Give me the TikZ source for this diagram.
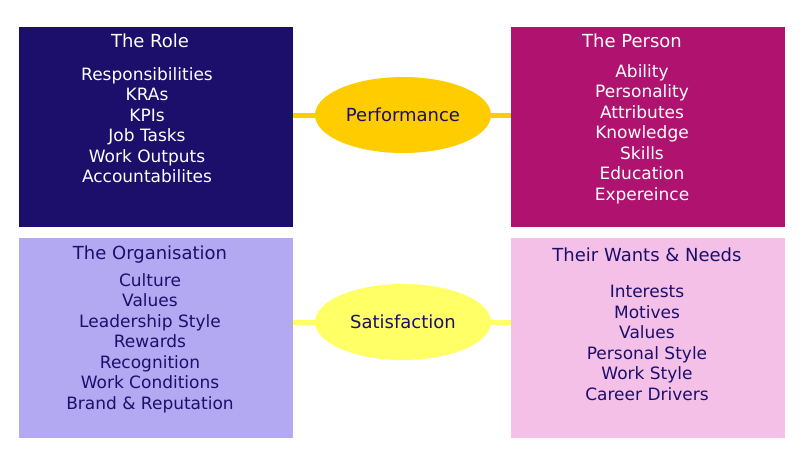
\documentclass[tikz,border=0pt]{standalone}
\usepackage{fontspec}
\setmainfont{DejaVu Sans}
\usetikzlibrary{positioning,shapes.geometric}
\definecolor{roleblue}{HTML}{1B0F6B}
\definecolor{personred}{HTML}{B0126F}
\definecolor{orglilac}{HTML}{B3A9F2}
\definecolor{wantpink}{HTML}{F5C0E8}
\definecolor{perfgold}{HTML}{FFCC00}
\definecolor{satyellow}{HTML}{FFFF66}
\begin{document}
\begin{tikzpicture}[x=1pt,y=-1pt]
	\tikzstyle{q-box}=[rectangle,inner sep=0pt,minimum width=274pt,minimum height=200pt,anchor=north west]
	\tikzstyle{q-text}=[align=center,font=\fontsize{17}{20.5}\selectfont,anchor=north]
	\tikzstyle{q-title}=[font=\fontsize{18}{20}\selectfont,anchor=north]
	\tikzstyle{link}=[line width=5pt]
	\useasboundingbox (0,0) rectangle (800,448);
	% boxes
	\node[q-box,fill=roleblue] 	(role)	at (19,27)	{};
	\node[q-box,fill=personred] 	(person)	at (511,27)	{};
	\node[q-box,fill=orglilac] 	(org)	at (19,238)	{};
	\node[q-box,fill=wantpink] 	(wants)	at (511,238)	{};
	% ellipses
	\node[ellipse,fill=perfgold,minimum width=176pt,minimum height=76pt,font=\fontsize{18}{20}\selectfont,text=roleblue] (perf) at (403,115) {Performance};
	\node[ellipse,fill=satyellow,minimum width=176pt,minimum height=76pt,font=\fontsize{18}{20}\selectfont,text=roleblue] (sat) at (403,322) {Satisfaction};
	% links
	\draw[link,perfgold] (role.east |- perf) -- (perf.west);
	\draw[link,perfgold] (perf.east) -- (person.west |- perf);
	\draw[link,satyellow] (org.east |- sat) -- (sat.west);
	\draw[link,satyellow] (sat.east) -- (wants.west |- sat);
	% texts
	\node[q-title,text=white] (role-t) at (150,30) {The Role};
	\node[q-text,text=white] (role-l) at (147,64) {Responsibilities\\KRAs\\KPIs\\Job Tasks\\Work Outputs\\Accountabilites};
	\node[q-title,text=white] (person-t) at (632,30) {The Person};
	\node[q-text,text=white] (person-l) at (642,61) {Ability\\Personality\\Attributes\\Knowledge\\Skills\\Education\\Expereince};
	\node[q-title,text=roleblue] (org-t) at (150,242) {The Organisation};
	\node[q-text,text=roleblue] (org-l) at (150,270) {Culture\\Values\\Leadership Style\\Rewards\\Recognition\\Work Conditions\\Brand \& Reputation};
	\node[q-title,text=roleblue] (wants-t) at (647,244) {Their Wants \& Needs};
	\node[q-text,text=roleblue] (wants-l) at (647,282) {Interests\\Motives\\Values\\Personal Style\\Work Style\\Career Drivers};
\end{tikzpicture}
\end{document}
